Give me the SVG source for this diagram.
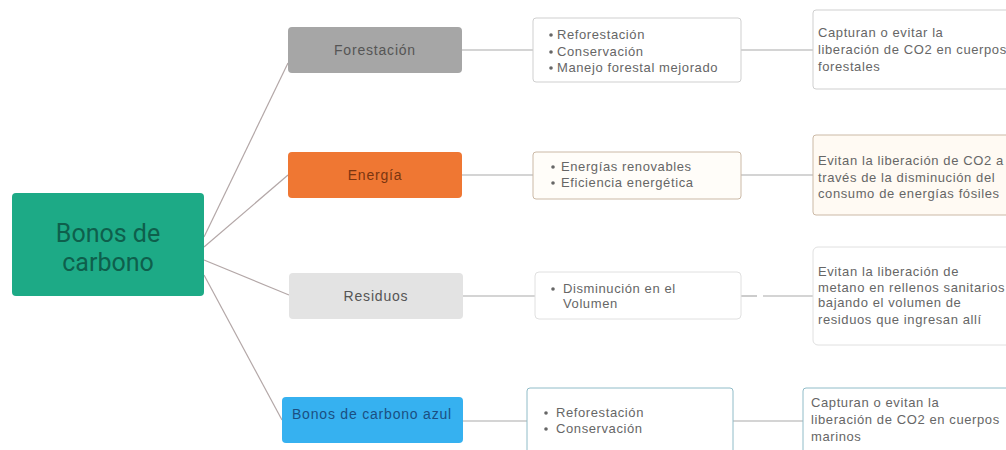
<svg xmlns="http://www.w3.org/2000/svg" width="1006" height="450" viewBox="0 0 1006 450">
<style>
.lbl{font-family:"Liberation Sans",Arial,sans-serif;font-size:14px;letter-spacing:0.8px;text-anchor:middle;dominant-baseline:central}
.txt{font-family:"Liberation Sans",Arial,sans-serif;font-size:13px;letter-spacing:0.6px;fill:#666}
.bul{fill:#666}
.conn{stroke:#b3a7a7;stroke-width:1.2;fill:none}
.hc{stroke:#aaa;stroke-width:1.2;fill:none}
</style>
<rect width="1006" height="450" fill="#fff"/>
<g id="connectors">
<line class="conn" x1="204" y1="237" x2="288" y2="63"/>
<line class="conn" x1="204" y1="247" x2="288" y2="175"/>
<line class="conn" x1="204" y1="260" x2="289" y2="295"/>
<line class="conn" x1="204" y1="275" x2="282" y2="420"/>
<line class="hc" x1="462" y1="50" x2="533" y2="50"/>
<line class="hc" x1="741" y1="50" x2="813" y2="50"/>
<line class="hc" x1="462" y1="175" x2="533" y2="175"/>
<line class="hc" x1="741" y1="175" x2="813" y2="175"/>
<line class="hc" x1="463" y1="296" x2="535" y2="296"/>
<line class="hc" x1="741" y1="296" x2="757" y2="296"/>
<line class="hc" x1="763" y1="296" x2="813" y2="296"/>
<line class="hc" x1="463" y1="421" x2="527" y2="421"/>
<line class="hc" x1="733" y1="421" x2="803" y2="421"/>
</g>
<g id="root">
<rect x="12" y="193" width="192" height="103" rx="4" fill="#1daa86"/>
<text x="108" y="233" font-family="Roboto,'Liberation Sans',sans-serif" font-size="25" fill="#0e5f4c" text-anchor="middle" dominant-baseline="central">Bonos de</text>
<text x="108" y="262" font-family="Roboto,'Liberation Sans',sans-serif" font-size="25" fill="#0e5f4c" text-anchor="middle" dominant-baseline="central">carbono</text>
</g>
<g id="forestacion">
<rect x="288" y="27" width="174" height="46" rx="4" fill="#a6a6a6"/>
<text class="lbl" x="375" y="50" fill="#555">Forestación</text>
</g>
<g id="energia">
<rect x="288" y="152" width="174" height="46" rx="4" fill="#ef7733"/>
<text class="lbl" x="375" y="175" fill="#7a3510">Energía</text>
</g>
<g id="residuos">
<rect x="289" y="273" width="174" height="46" rx="4" fill="#e3e3e3"/>
<text class="lbl" x="376" y="296" fill="#555">Residuos</text>
</g>
<g id="azul">
<rect x="282" y="397" width="181" height="46" rx="4" fill="#36b1f0"/>
<text class="lbl" x="372" y="414" fill="#1b4f82">Bonos de carbono azul</text>
</g>
<g id="lista-forestacion">
<rect x="533" y="18" width="208" height="64" rx="3" fill="#fff" stroke="#cfcfcf"/>
<circle class="bul" cx="551" cy="35" r="1.8"/>
<circle class="bul" cx="551" cy="52" r="1.8"/>
<circle class="bul" cx="551" cy="68" r="1.8"/>
<text class="txt" x="557" y="39">Reforestación</text>
<text class="txt" x="557" y="56">Conservación</text>
<text class="txt" x="557" y="72">Manejo forestal mejorado</text>
</g>
<g id="desc-forestacion">
<rect x="813" y="10" width="200" height="79" rx="3" fill="#fff" stroke="#cfcfcf"/>
<text class="txt" x="818" y="37">Capturan o evitar la</text>
<text class="txt" x="818" y="54">liberación de CO2 en cuerpos</text>
<text class="txt" x="818" y="71">forestales</text>
</g>
<g id="lista-energia">
<rect x="533" y="152" width="208" height="47" rx="3" fill="#fffdf9" stroke="#cbb9a6"/>
<circle class="bul" cx="553" cy="167" r="1.8"/>
<circle class="bul" cx="553" cy="183" r="1.8"/>
<text class="txt" x="561" y="171">Energías renovables</text>
<text class="txt" x="561" y="187">Eficiencia energética</text>
</g>
<g id="desc-energia">
<rect x="813" y="135" width="200" height="80" rx="3" fill="#fffaf3" stroke="#cbb9a6"/>
<text class="txt" x="818" y="165">Evitan la liberación de CO2 a</text>
<text class="txt" x="818" y="182">través de la disminución del</text>
<text class="txt" x="818" y="198">consumo de energías fósiles</text>
</g>
<g id="lista-residuos">
<rect x="535" y="272" width="206" height="47" rx="4" fill="#fff" stroke="#e0e0e0"/>
<circle class="bul" cx="553" cy="289" r="1.8"/>
<text class="txt" x="563" y="293">Disminución en el</text>
<text class="txt" x="563" y="308">Volumen</text>
</g>
<g id="desc-residuos">
<rect x="813" y="247" width="200" height="98" rx="5" fill="#fff" stroke="#e0e0e0"/>
<text class="txt" x="818" y="276">Evitan la liberación de</text>
<text class="txt" x="818" y="292">metano en rellenos sanitarios</text>
<text class="txt" x="818" y="307">bajando el volumen de</text>
<text class="txt" x="818" y="324">residuos que ingresan allí</text>
</g>
<g id="lista-azul">
<rect x="527" y="388" width="206" height="70" rx="3" fill="#fff" stroke="#90bcc8"/>
<circle class="bul" cx="546" cy="413" r="1.8"/>
<circle class="bul" cx="546" cy="429" r="1.8"/>
<text class="txt" x="556" y="417">Reforestación</text>
<text class="txt" x="556" y="433">Conservación</text>
</g>
<g id="desc-azul">
<rect x="803" y="388" width="210" height="70" rx="3" fill="#fff" stroke="#90bcc8"/>
<text class="txt" x="811" y="407">Capturan o evitan la</text>
<text class="txt" x="811" y="424">liberación de CO2 en cuerpos</text>
<text class="txt" x="811" y="441">marinos</text>
</g>
</svg>
